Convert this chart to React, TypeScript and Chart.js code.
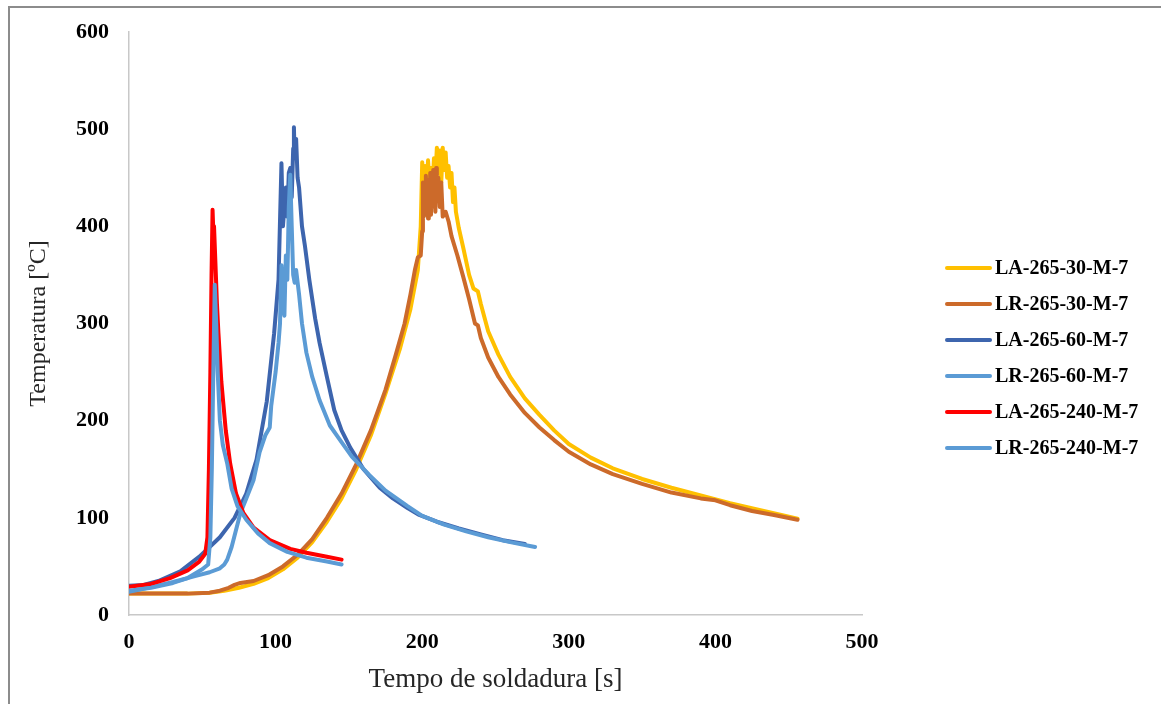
import React, { useEffect, useRef } from "react";
import { Chart, registerables } from "chart.js";

Chart.register(...registerables);

const seriesLabels = [
  "LA-265-30-M-7",
  "LR-265-30-M-7",
  "LA-265-60-M-7",
  "LR-265-60-M-7",
  "LA-265-240-M-7",
  "LR-265-240-M-7",
];

const xTicks = [0, 100, 200, 300, 400, 500];
const yTicks = [0, 100, 200, 300, 400, 500, 600];

// LA-265-30-M-7
const la30Time = [0, 20, 40, 55, 65, 75, 85, 95, 105, 115, 125, 135, 145, 155, 165, 175, 185, 192, 197, 199, 200, 201, 202, 203, 204, 205, 206, 207, 208, 209, 210, 211, 212, 213, 214, 215, 216, 217, 218, 219, 220, 221, 222, 223, 225, 228, 232, 235, 238, 240, 245, 252, 260, 270, 280, 290, 300, 315, 330, 350, 370, 390, 410, 430, 445, 456];
const la30Temp = [22, 22, 22, 23, 25, 28, 32, 38, 47, 59, 75, 96, 120, 150, 185, 228, 275, 315, 355, 400, 466, 430, 462, 440, 468, 445, 460, 438, 470, 450, 481, 455, 478, 445, 481, 458, 476, 450, 462, 440, 455, 425, 440, 415, 398, 378, 350, 336, 333, 320, 292, 268, 245, 223, 206, 190, 176, 162, 151, 140, 131, 123, 115, 108, 103, 99];

// LR-265-30-M-7
const lr30Time = [0, 20, 40, 55, 62, 68, 72, 76, 85, 95, 105, 115, 125, 135, 145, 155, 165, 175, 182, 188, 192, 195, 197, 199, 200, 200.5, 201, 201.5, 202, 202.5, 203, 203.5, 204, 204.5, 205, 205.5, 206, 206.5, 207, 207.5, 208, 208.5, 209, 209.5, 210, 211, 212, 213, 214, 216, 218, 220, 224, 228, 232, 236, 238, 240, 245, 252, 260, 270, 280, 290, 300, 315, 330, 350, 370, 390, 400, 410, 425, 440, 456];
const lr30Temp = [22, 22, 22, 23, 25, 28, 31, 33, 35, 41, 50, 62, 78, 100, 125, 155, 190, 232, 268, 300, 330, 355, 368, 370, 395, 445, 410, 440, 412, 452, 415, 440, 408, 448, 418, 455, 412, 440, 420, 458, 425, 445, 415, 460, 430, 450, 420, 445, 410, 415, 405, 390, 370, 348, 325, 300, 298, 285, 265, 245, 227, 208, 193, 180, 168, 155, 145, 135, 126, 120, 118, 113, 107, 103, 98];

// LA-265-60-M-7
const la60Time = [0, 10, 20, 35, 48, 62, 72, 80, 87, 94, 99, 102, 104, 105, 106, 107, 108, 109, 110, 111, 112, 112.5, 113, 114, 115, 116, 118, 120, 123, 127, 130, 135, 140, 145, 151, 160, 171, 180, 190, 198, 210, 225, 240, 255, 270];
const la60Temp = [30, 31, 35, 45, 60, 80, 100, 125, 160, 220, 290, 345, 465, 400, 420, 440, 410, 455, 460, 430, 480, 502, 470, 490, 450, 440, 400, 380, 345, 305, 280, 245, 211, 190, 172, 150, 131, 120, 110, 103, 96, 89, 83, 77, 73];

// LR-265-60-M-7
const lr60Time = [0, 16, 30, 45, 55, 62, 65, 67, 70, 76, 80, 85, 89, 93, 96, 97, 100, 102, 103, 104, 105, 106, 107, 108, 109, 110, 111, 112, 113, 114, 116, 118, 121, 125, 130, 137, 144, 152, 164, 175, 190, 200, 215, 230, 245, 260, 277];
const lr60Temp = [24, 29, 34, 40, 44, 48, 52, 57, 70, 105, 120, 139, 167, 185, 193, 215, 250, 280, 300, 360, 320, 308, 370, 345, 420, 453, 400, 350, 342, 355, 330, 300, 270, 245, 221, 195, 180, 163, 144, 128, 112, 102, 93, 86, 80, 75, 70];

// LA-265-240-M-7
const la240Time = [0, 15, 28, 40, 48, 52, 53.5, 54.5, 55.5, 56.3, 57, 57.5, 58, 59, 60, 61, 63, 66, 69, 73, 78, 85, 96, 110, 121, 135, 145];
const la240Temp = [29, 32, 38, 46, 55, 63, 80, 150, 250, 350, 417, 395, 400, 360, 320, 290, 240, 190, 156, 125, 105, 90, 77, 68, 64, 60, 57];

// LR-265-240-M-7
const lr240Time = [0, 15, 30, 40, 50, 54, 55.5, 56.5, 57.5, 58.5, 59.5, 60.5, 62, 64, 67, 70, 74, 80, 88, 96, 108, 121, 135, 145];
const lr240Temp = [25, 28, 33, 38, 47, 52, 80, 150, 250, 340, 300, 250, 200, 175, 156, 130, 112, 98, 84, 74, 65, 59, 55, 52];

const colors = ["#FFC000", "#CC6A2A", "#3D65AE", "#5B9BD5", "#FF0000", "#5B9BD5"];

const toPoints = (xs: number[], ys: number[]) => xs.map((x, i) => ({ x, y: ys[i] }));

const allSeries = [
  toPoints(la30Time, la30Temp),
  toPoints(lr30Time, lr30Temp),
  toPoints(la60Time, la60Temp),
  toPoints(lr60Time, lr60Temp),
  toPoints(la240Time, la240Temp),
  toPoints(lr240Time, lr240Temp),
];

const legendPlugin = {
  id: "sideLegend",
  afterDraw(chart: any) {
    const ctx = chart.ctx;
    ctx.save();
    ctx.font = "bold 20px 'Liberation Serif', 'Times New Roman', serif";
    ctx.textBaseline = "middle";
    ctx.textAlign = "left";
    chart.data.datasets.forEach((ds: any, i: number) => {
      const y = 260 + i * 36;
      ctx.strokeStyle = ds.borderColor;
      ctx.lineWidth = 4;
      ctx.lineCap = "round";
      ctx.beginPath();
      ctx.moveTo(937, y);
      ctx.lineTo(980, y);
      ctx.stroke();
      ctx.fillStyle = "#000";
      ctx.fillText(ds.label, 985, y + 1);
    });
    ctx.restore();
  },
};

export default function App() {
  const ref = useRef<HTMLCanvasElement | null>(null);
  useEffect(() => {
    if (!ref.current) return;
    const chart = new Chart(ref.current, {
      type: "line",
      data: {
        datasets: allSeries.map((pts, i) => ({
          label: seriesLabels[i],
          data: pts,
          borderColor: colors[i],
          backgroundColor: colors[i],
          borderWidth: 4,
          pointRadius: 0,
          tension: 0,
          fill: false,
          borderJoinStyle: "round" as const,
          borderCapStyle: "round" as const,
          order: 6 - i,
        })),
      },
      options: {
        animation: false,
        responsive: false,
        devicePixelRatio: 1,
        layout: { padding: { left: 0, top: 24, right: 299, bottom: 0 } },
        plugins: { legend: { display: false }, tooltip: { enabled: false } },
        scales: {
          x: {
            type: "linear",
            min: 0,
            max: 500,
            afterFit: (s: any) => {
              s.height = 89;
            },
            afterBuildTicks: (s: any) => {
              s.ticks = xTicks.map((v) => ({ value: v }));
            },
            grid: { display: false, drawTicks: false },
            border: { display: true, color: "#c8c8c8", width: 1.5 },
            ticks: {
              padding: 14,
              color: "#000",
              font: { family: "'Liberation Serif', 'Times New Roman', serif", size: 22, weight: "bold" },
            },
            title: {
              display: true,
              text: "Tempo de soldadura [s]",
              color: "#262626",
              padding: { top: 0, bottom: 8 },
              font: { family: "'Liberation Serif', 'Times New Roman', serif", size: 27 },
            },
          },
          y: {
            type: "linear",
            min: 0,
            max: 600,
            afterFit: (s: any) => {
              s.width = 119;
            },
            afterBuildTicks: (s: any) => {
              s.ticks = yTicks.map((v) => ({ value: v }));
            },
            grid: { display: false, drawTicks: false },
            border: { display: true, color: "#c8c8c8", width: 1.5 },
            ticks: {
              padding: 20,
              color: "#000",
              font: { family: "'Liberation Serif', 'Times New Roman', serif", size: 22, weight: "bold", lineHeight: 0.3 },
            },
            title: {
              display: true,
              text: "Temperatura [ºC]",
              color: "#262626",
              padding: { top: 14, bottom: 0 },
              font: { family: "'Liberation Serif', 'Times New Roman', serif", size: 24 },
            },
          },
        },
      },
      plugins: [legendPlugin],
    });
    return () => chart.destroy();
  }, []);

  return (
    <div
      style={{
        position: "fixed",
        left: 8,
        top: 6,
        width: 1153,
        height: 698,
        borderLeft: "2px solid #8c8c8c",
        borderTop: "2px solid #8c8c8c",
        boxSizing: "border-box",
        background: "#fff",
        overflow: "hidden",
      }}
    >
      <canvas ref={ref} width={1151} height={696} style={{ display: "block", width: 1151, height: 696 }} />
    </div>
  );
}
